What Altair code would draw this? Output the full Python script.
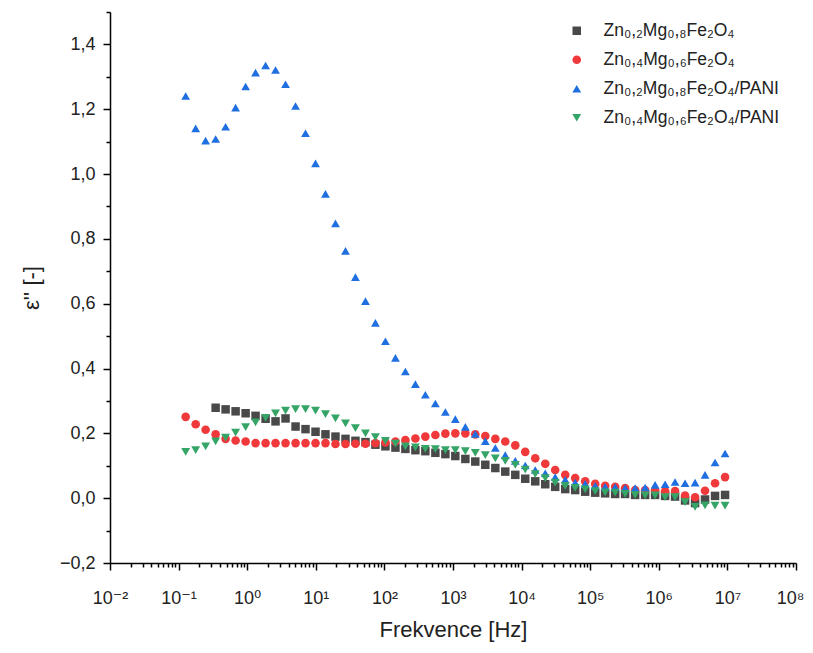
import json
import altair as alt
import pandas as pd

# ---------------- data ----------------
freq_hz = [0.1268, 0.1774, 0.2477, 0.3467, 0.4842, 0.6776, 0.9484, 1.324, 1.854, 2.588,
           3.622, 5.070, 7.079, 9.908, 13.84, 19.36, 27.10, 37.84, 52.97, 73.96,
           103.5, 144.9, 202.3, 283.1, 395.4, 553.4, 774.5, 1081, 1514, 2113,
           2958, 4140, 5781, 8091, 11300, 15810, 22130, 30900, 43250, 60400,
           84530, 118300, 165200, 231200, 322800, 451900, 632400, 883100, 1236000, 1726000,
           2415000, 3381000, 4721000, 6607000, 9247000]

series_names = ["Zn₀,₂Mg₀,₈Fe₂O₄", "Zn₀,₄Mg₀,₆Fe₂O₄",
                "Zn₀,₂Mg₀,₈Fe₂O₄/PANI", "Zn₀,₄Mg₀,₆Fe₂O₄/PANI"]

# Zn0.2Mg0.8Fe2O4 starts at the 4th frequency
eps_zn02 = [0.279, 0.274, 0.268, 0.262, 0.254, 0.245, 0.237, 0.246, 0.221, 0.213,
            0.205, 0.197, 0.190, 0.183, 0.177, 0.173, 0.165, 0.160, 0.156, 0.152,
            0.148, 0.145, 0.140, 0.136, 0.130, 0.121, 0.113, 0.103, 0.093, 0.082,
            0.072, 0.060, 0.052, 0.043, 0.035, 0.028, 0.025, 0.020, 0.017, 0.015,
            0.013, 0.013, 0.010, 0.010, 0.010, 0.007, 0.005, -0.007, -0.015, -0.004,
            0.007, 0.010]

eps_zn04 = [0.251, 0.228, 0.211, 0.197, 0.183, 0.178, 0.175, 0.170, 0.170, 0.170,
            0.170, 0.170, 0.170, 0.170, 0.170, 0.167, 0.167, 0.168, 0.168, 0.170,
            0.172, 0.175, 0.179, 0.184, 0.190, 0.195, 0.199, 0.200, 0.200, 0.197,
            0.192, 0.183, 0.175, 0.163, 0.143, 0.123, 0.106, 0.087, 0.072, 0.062,
            0.052, 0.044, 0.038, 0.035, 0.031, 0.025, 0.025, 0.025, 0.021, 0.022,
            0.008, 0.003, 0.023, 0.046, 0.065]

eps_zn02_pani = [1.241, 1.141, 1.103, 1.108, 1.146, 1.205, 1.270, 1.313, 1.335, 1.321,
                 1.277, 1.210, 1.126, 1.033, 0.939, 0.848, 0.763, 0.682, 0.608, 0.541,
                 0.484, 0.433, 0.391, 0.352, 0.319, 0.292, 0.266, 0.244, 0.220, 0.198,
                 0.176, 0.155, 0.133, 0.115, 0.101, 0.087, 0.077, 0.065, 0.057, 0.048,
                 0.044, 0.038, 0.035, 0.034, 0.031, 0.031, 0.033, 0.041, 0.043, 0.050,
                 0.046, 0.048, 0.072, 0.110, 0.138]

eps_zn04_pani = [0.143, 0.148, 0.160, 0.175, 0.187, 0.202, 0.219, 0.234, 0.248, 0.262,
                 0.270, 0.275, 0.275, 0.270, 0.259, 0.246, 0.231, 0.216, 0.200, 0.188,
                 0.177, 0.168, 0.160, 0.157, 0.152, 0.151, 0.148, 0.148, 0.145, 0.140,
                 0.133, 0.123, 0.115, 0.103, 0.088, 0.074, 0.062, 0.048, 0.038, 0.032,
                 0.027, 0.022, 0.018, 0.017, 0.013, 0.010, 0.009, 0.009, 0.003, 0.003,
                 -0.012, -0.027, -0.022, -0.023, -0.023]

x_tick_labels = ["10⁻²", "10⁻¹", "10⁰", "10¹", "10²", "10³", "10⁴", "10⁵", "10⁶", "10⁷", "10⁸"]
x_decades = [1e-2, 1e-1, 1e0, 1e1, 1e2, 1e3, 1e4, 1e5, 1e6, 1e7, 1e8]
y_tick_values = [-0.2, -0.1, 0.0, 0.1, 0.2, 0.3, 0.4, 0.5, 0.6, 0.7, 0.8,
                 0.9, 1.0, 1.1, 1.2, 1.3, 1.4, 1.5]

colors = ["#494949", "#f0393b", "#1f6fe0", "#35a567"]
shapes = ["square", "circle", "triangle-up", "triangle-down"]
sizes = [72, 80, 110, 110]

# ---------------- table ----------------
rows = []
for f, v in zip(freq_hz[3:], eps_zn02):
    rows.append({"f": f, "eps": v, "series": series_names[0]})
for f, v in zip(freq_hz, eps_zn04):
    rows.append({"f": f, "eps": v, "series": series_names[1]})
for f, v in zip(freq_hz, eps_zn02_pani):
    rows.append({"f": f, "eps": v, "series": series_names[2]})
for f, v in zip(freq_hz, eps_zn04_pani):
    rows.append({"f": f, "eps": v, "series": series_names[3]})
df = pd.DataFrame(rows)

# minor ticks on the log axis
x_tick_values = []
for d in x_decades:
    x_tick_values.append(d)
    if d < 1e8:
        for m in range(2, 10):
            x_tick_values.append(m * d)

font = "Liberation Sans, Arial, DejaVu Sans"

is_decade = "abs(log(datum.value)/LN10 - round(log(datum.value)/LN10)) < 0.001"
x_label_expr = ("(" + is_decade + ") ? " + json.dumps(x_tick_labels, ensure_ascii=False)
                + "[round(log(datum.value)/LN10) + 2] : ''")
is_major_y = "abs(datum.value*5 - round(datum.value*5)) < 0.001"
y_label_expr = "(" + is_major_y + ") ? replace(format(datum.value, '.1f'), '.', ',') : ''"

legend = alt.Legend(
    title=None, orient="none", legendX=458, legendY=10,
    labelFont=font, labelFontSize=17.5, labelColor="#222222", labelLimit=400,
    rowPadding=10, symbolStrokeWidth=0, labelOffset=18,
)

chart = alt.Chart(df).mark_point(filled=True, opacity=1, strokeWidth=0).encode(
    x=alt.X("f:Q",
            scale=alt.Scale(type="log", domain=[1e-2, 1e8], nice=False),
            axis=alt.Axis(
                title="Frekvence [Hz]", values=x_tick_values, labelExpr=x_label_expr,
                grid=False, domainColor="black", domainWidth=1.5,
                tickColor="black", tickWidth=1.5,
                tickSize={"condition": {"test": is_decade, "value": 7}, "value": 4},
                labelFont=font, labelFontSize=18, labelColor="#222222",
                labelPadding=19, labelOverlap=False, labelFlush=False,
                labelOffset={"condition": {"test": "datum.value > 5e7", "value": -6}, "value": 0},
                titleFont=font, titleFontSize=22, titleFontWeight="normal",
                titleColor="#222222", titlePadding=12,
            )),
    y=alt.Y("eps:Q",
            scale=alt.Scale(domain=[-0.2, 1.5], nice=False, zero=False),
            axis=alt.Axis(
                title="ε'' [-]", values=y_tick_values, labelExpr=y_label_expr,
                grid=False, domainColor="black", domainWidth=1.5,
                tickColor="black", tickWidth=1.5,
                tickSize={"condition": {"test": is_major_y, "value": 7}, "value": 4},
                labelFont=font, labelFontSize=18, labelColor="#222222",
                labelPadding=8, labelOverlap=False, labelFlush=False,
                titleFont=font, titleFontSize=22, titleFontWeight="normal",
                titleColor="#222222", titlePadding=16,
            )),
    color=alt.Color("series:N", scale=alt.Scale(domain=series_names, range=colors),
                    legend=legend),
    shape=alt.Shape("series:N", scale=alt.Scale(domain=series_names, range=shapes),
                    legend=legend),
    size=alt.Size("series:N", scale=alt.Scale(domain=series_names, range=sizes),
                  legend=legend),
).properties(
    width=686, height=551,
    autosize=alt.AutoSizeParams(type="none"),
    padding={"left": 102, "top": 4, "right": 9, "bottom": 80},
).configure(background="white").configure_view(stroke=None, strokeWidth=0)

chart.save("out.html", embed_options={"renderer": "svg", "actions": False})
